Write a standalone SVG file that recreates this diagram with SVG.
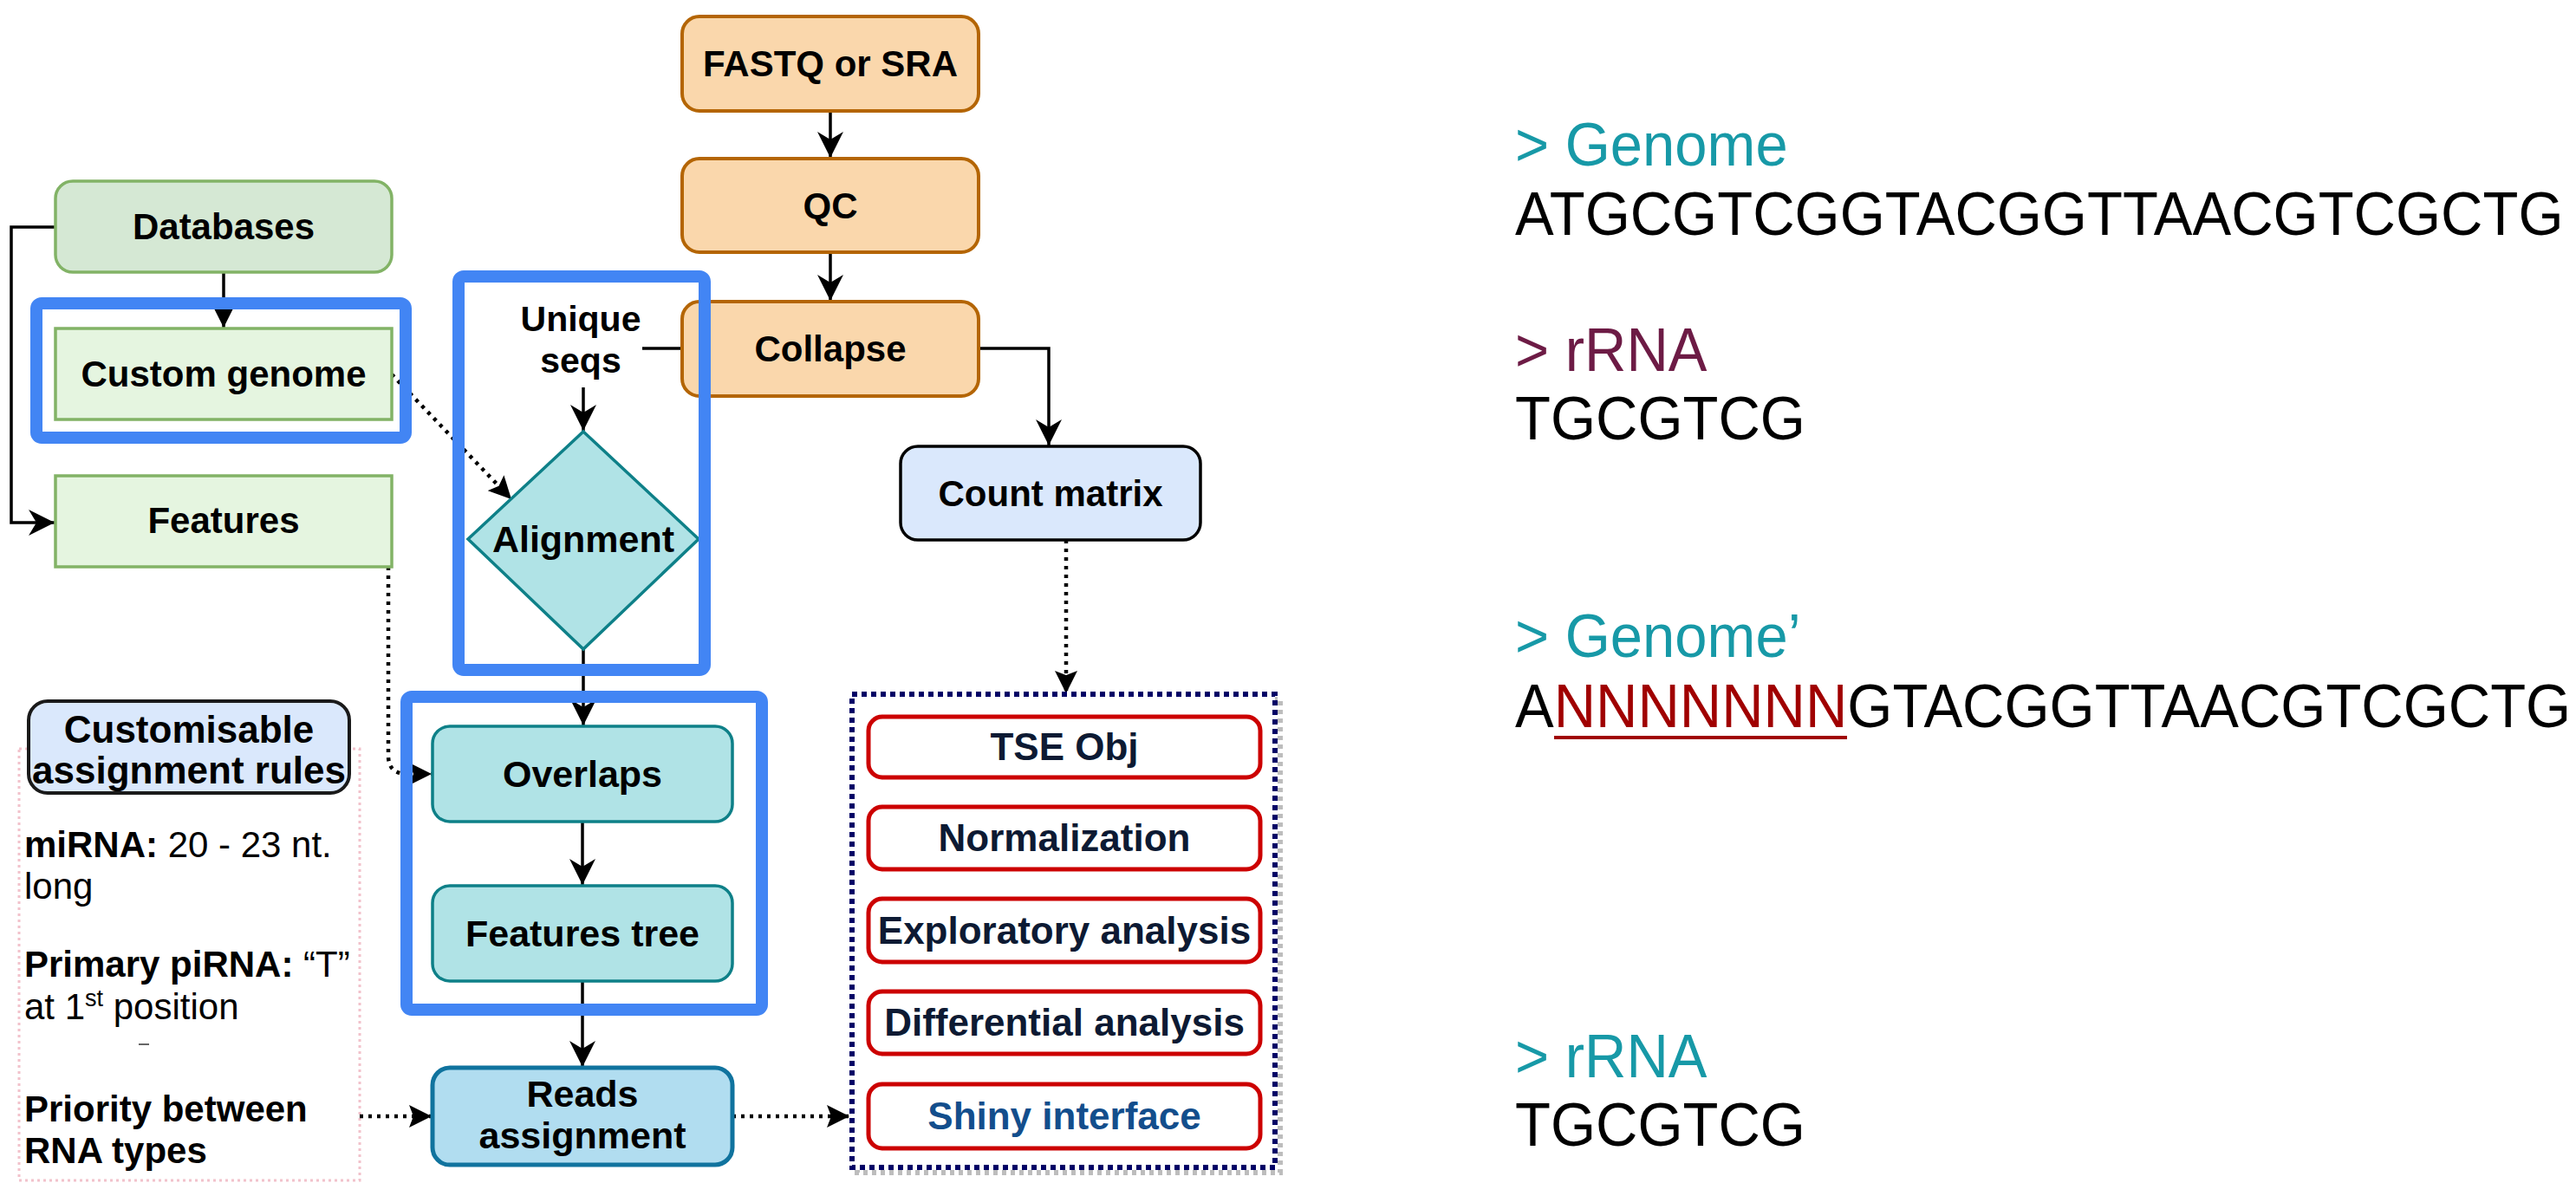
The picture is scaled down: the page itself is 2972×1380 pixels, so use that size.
<svg xmlns="http://www.w3.org/2000/svg" width="2972" height="1380" viewBox="0 0 2972 1380">
<defs>
<style>
.lbl{font-family:"Liberation Sans",Arial,Helvetica,sans-serif;font-weight:bold;text-anchor:middle;fill:#000}
.rt{font-family:"Liberation Sans",Arial,Helvetica,sans-serif;font-size:42px;fill:#000}
.seq{font-family:"Liberation Sans",Arial,Helvetica,sans-serif;font-size:67px;fill:#000}
.conn{fill:none;stroke:#000;stroke-width:3.5}
.dot{stroke-width:4.5;stroke-dasharray:4 6}
.hl{fill:none;stroke:#4285F4;stroke-width:14}
.green{fill:#e5f5e0;stroke:#82b366;stroke-width:3.5}
.orange{fill:#fad7ac;stroke:#b46504;stroke-width:4}
.teal{fill:#b0e3e6;stroke:#0e8088;stroke-width:3.5}
.red{fill:#fff;stroke:#cc0000;stroke-width:5}
.rlbl{font-family:"Liberation Sans",Arial,Helvetica,sans-serif;font-weight:bold;text-anchor:middle;font-size:44px;fill:#0d1a33}
</style>
<marker id="arr" viewBox="0 0 30 30" refX="30" refY="15" markerWidth="30" markerHeight="30" markerUnits="userSpaceOnUse" orient="auto">
<path d="M0,0 L30,15 L0,30 L9,15 z" fill="#000"/>
</marker>
<marker id="arrd" viewBox="0 0 26 26" refX="26" refY="13" markerWidth="26" markerHeight="26" markerUnits="userSpaceOnUse" orient="auto">
<path d="M0,0 L26,13 L0,26 L5,13 z" fill="#000"/>
</marker>
</defs>
<rect width="2972" height="1380" fill="#fff"/>

<g id="rules-container">
<rect x="22" y="864" width="393" height="498" fill="none" stroke="#f2c2cb" stroke-width="3" stroke-dasharray="3 4"/>
</g>

<g id="connectors">
<path class="conn" d="M64,262 H13 V603 H63" marker-end="url(#arr)"/>
<path class="conn" d="M258,314 V378" marker-end="url(#arr)"/>
<path class="conn dot" d="M452,432 L590,576" marker-end="url(#arrd)"/>
<path class="conn" d="M958,128 V182" marker-end="url(#arr)"/>
<path class="conn" d="M958,291 V347" marker-end="url(#arr)"/>
<path class="conn" d="M787,402 H741"/>
<path class="conn" d="M673,447 V497" marker-end="url(#arr)"/>
<path class="conn" d="M1129,402 H1210 V514" marker-end="url(#arr)"/>
<path class="conn" d="M673,749 V837" marker-end="url(#arr)"/>
<path class="conn" d="M672,948 V1021" marker-end="url(#arr)"/>
<path class="conn" d="M672,1132 V1231" marker-end="url(#arr)"/>
<path class="conn dot" d="M448,654 V872 Q448,893 470,893 H498" marker-end="url(#arrd)"/>
<path class="conn dot" d="M1230,623 V800" marker-end="url(#arrd)"/>
<path class="conn dot" d="M415,1288 H498" marker-end="url(#arrd)"/>
<path class="conn dot" d="M845,1288 H980" marker-end="url(#arrd)"/>
</g>

<g id="databases">
<rect x="64" y="209" width="388" height="105" rx="20" fill="#d5e8d4" stroke="#82b366" stroke-width="3.5"/>
<text class="lbl" x="258" y="276" font-size="42">Databases</text>
</g>
<g id="custom-genome">
<rect class="green" x="64" y="379" width="388" height="105"/>
<text class="lbl" x="258" y="446" font-size="42">Custom genome</text>
</g>
<g id="features">
<rect class="green" x="64" y="549" width="388" height="105"/>
<text class="lbl" x="258" y="615" font-size="42">Features</text>
</g>

<g id="fastq">
<rect class="orange" x="787" y="19" width="342" height="109" rx="20"/>
<text class="lbl" x="958" y="88" font-size="42">FASTQ or SRA</text>
</g>
<g id="qc">
<rect class="orange" x="787" y="183" width="342" height="108" rx="20"/>
<text class="lbl" x="958" y="252" font-size="42">QC</text>
</g>
<g id="collapse">
<rect class="orange" x="787" y="348" width="342" height="109" rx="20"/>
<text class="lbl" x="958" y="417" font-size="42">Collapse</text>
</g>

<g id="unique-seqs">
<text class="lbl" x="670" y="382" font-size="41">Unique</text>
<text class="lbl" x="670" y="430" font-size="41">seqs</text>
</g>

<g id="alignment">
<polygon class="teal" points="673,498 806,622 673,749 540,622"/>
<text class="lbl" x="673" y="637" font-size="43">Alignment</text>
</g>

<g id="overlaps">
<rect class="teal" x="499" y="838" width="346" height="110" rx="20"/>
<text class="lbl" x="672" y="908" font-size="43">Overlaps</text>
</g>
<g id="features-tree">
<rect class="teal" x="499" y="1022" width="346" height="110" rx="20"/>
<text class="lbl" x="672" y="1092" font-size="43">Features tree</text>
</g>
<g id="reads-assignment">
<rect x="499" y="1232" width="346" height="112" rx="20" fill="#b1ddf0" stroke="#10739e" stroke-width="5"/>
<text class="lbl" x="672" y="1277" font-size="43">Reads</text>
<text class="lbl" x="672" y="1325" font-size="43">assignment</text>
</g>

<g id="count-matrix">
<rect x="1039" y="515" width="346" height="108" rx="20" fill="#dae8fc" stroke="#000" stroke-width="3.5"/>
<text class="lbl" x="1212" y="584" font-size="42">Count matrix</text>
</g>

<g id="analysis-container">
<rect x="989" y="807" width="488" height="546" fill="none" stroke="#bdbdbd" stroke-width="6" stroke-dasharray="5 5"/>
<rect x="983" y="801" width="488" height="546" fill="#fff" stroke="#000066" stroke-width="6" stroke-dasharray="6 5"/>
</g>
<g id="tse-obj">
<rect class="red" x="1002" y="827" width="452" height="70" rx="16"/>
<text class="rlbl" x="1228" y="877">TSE Obj</text>
</g>
<g id="normalization">
<rect class="red" x="1002" y="931" width="452" height="72" rx="16"/>
<text class="rlbl" x="1228" y="982">Normalization</text>
</g>
<g id="exploratory">
<rect class="red" x="1002" y="1037" width="452" height="73" rx="16"/>
<text class="rlbl" x="1228" y="1089">Exploratory analysis</text>
</g>
<g id="differential">
<rect class="red" x="1002" y="1144" width="452" height="72" rx="16"/>
<text class="rlbl" x="1228" y="1195">Differential analysis</text>
</g>
<g id="shiny">
<rect class="red" x="1002" y="1251" width="452" height="74" rx="16"/>
<text class="rlbl" x="1228" y="1303" style="fill:#134e8c">Shiny interface</text>
</g>

<g id="assignment-rules">
<rect x="33" y="809" width="370" height="106" rx="22" fill="#dae8fc" stroke="#1a1a1a" stroke-width="4"/>
<text class="lbl" x="218" y="857" font-size="44">Customisable</text>
<text class="lbl" x="218" y="904" font-size="44">assignment rules</text>
</g>
<g id="rules-text">
<text class="rt" x="28" y="989"><tspan font-weight="bold">miRNA:</tspan> 20 - 23 nt.</text>
<text class="rt" x="28" y="1037">long</text>
<text class="rt" x="28" y="1127"><tspan font-weight="bold">Primary piRNA:</tspan> “T”</text>
<text class="rt" x="28" y="1176">at 1<tspan font-size="27" dy="-15">st</tspan><tspan dy="15"> position</tspan></text>
<line x1="160" y1="1205" x2="172" y2="1205" stroke="#666" stroke-width="2"/>
<text class="rt" x="28" y="1294" font-weight="bold">Priority between</text>
<text class="rt" x="28" y="1342" font-weight="bold">RNA types</text>
</g>

<g id="highlights">
<rect class="hl" x="42" y="350" width="426" height="155" rx="6"/>
<rect class="hl" x="529" y="319" width="284" height="454" rx="6"/>
<rect class="hl" x="469" y="804" width="410" height="361" rx="6"/>
</g>

<g id="sequences">
<text class="seq" transform="translate(1748,191) scale(1,1.045)" style="fill:#1799a7">&gt; Genome</text>
<text class="seq" transform="translate(1748,271) scale(1,1.045)">ATGCGTCGGTACGGTTAACGTCGCTG</text>
<text class="seq" transform="translate(1748,428) scale(1,1.045)" style="fill:#6d1b45">&gt; rRNA</text>
<text class="seq" transform="translate(1748,507) scale(1,1.045)">TGCGTCG</text>
<text class="seq" transform="translate(1748,758) scale(1,1.045)" style="fill:#1799a7">&gt; Genome’</text>
<text class="seq" transform="translate(1748,839) scale(1,1.045)">A<tspan style="fill:#a00000">NNNNNNN</tspan>GTACGGTTAACGTCGCTG</text>
<line x1="1793" y1="851" x2="2131" y2="851" stroke="#a00000" stroke-width="4"/>
<text class="seq" transform="translate(1748,1243) scale(1,1.045)" style="fill:#1799a7">&gt; rRNA</text>
<text class="seq" transform="translate(1748,1322) scale(1,1.045)">TGCGTCG</text>
</g>
</svg>
